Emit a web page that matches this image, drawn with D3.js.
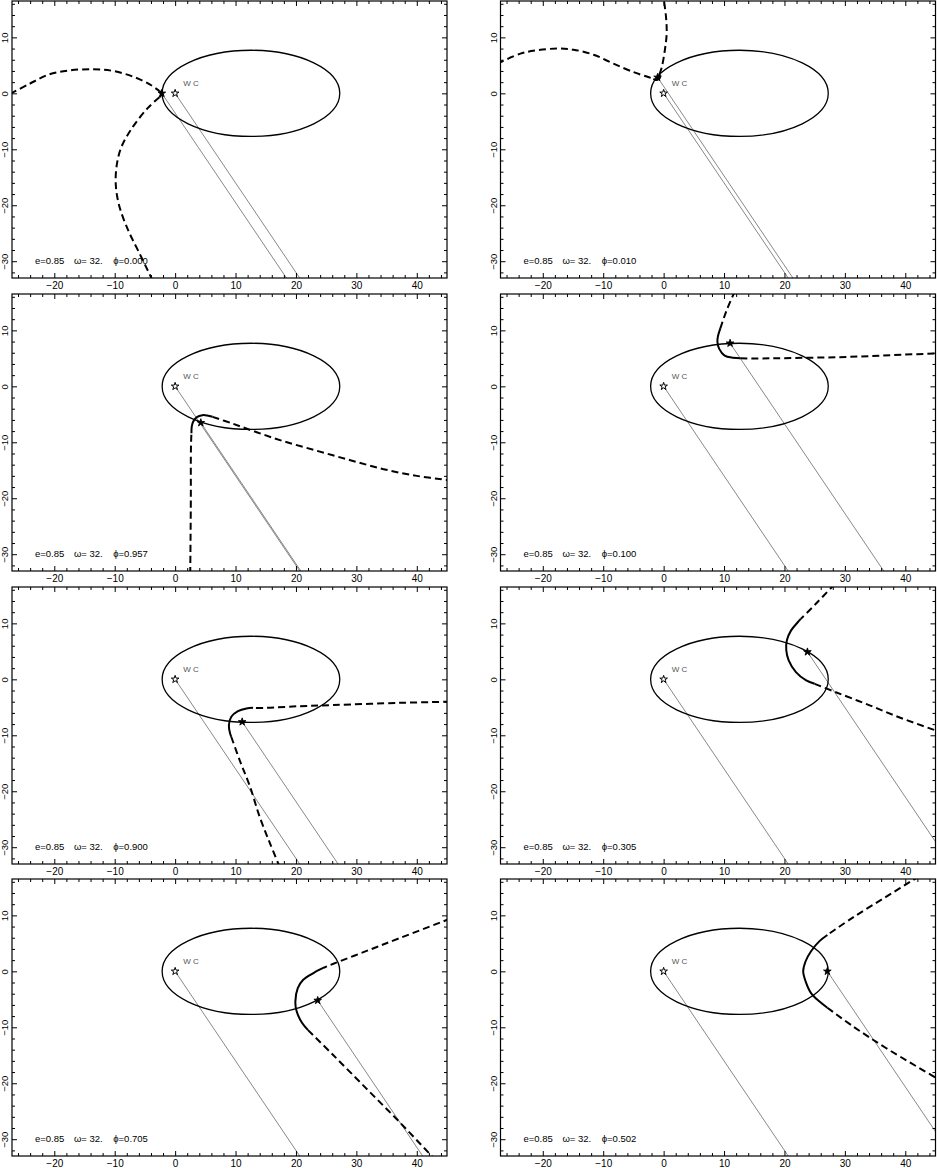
<!DOCTYPE html>
<html><head><meta charset="utf-8">
<script src="https://cdn.jsdelivr.net/npm/d3@7"></script>
<style>
body{margin:0;background:#fff}
svg{display:block}
text{font-family:"Liberation Sans",Arial,Helvetica,sans-serif}
</style></head>
<body><svg id="c" width="937" height="1168"></svg>
<script>
// ---- data ----
const xMajorTicks = [-20,-10,0,10,20,30,40];
const yMajorTicks = [-30,-20,-10,0,10];
const xDomain = [-27,45];
const yDomain = [-33,16.5];
const eccLabel = "0.85";
const omegaLabel = " 32.";
const omegaDeg = 32;
const phases = ["0.000","0.010","0.957","0.100","0.900","0.305","0.705","0.502"];
const compX = [-2.2,-1.0,4.25,11.0,11.1,23.8,23.6,27.1];
const compY = [0,2.85,-6.5,7.7,-7.6,4.9,-5.2,0];
const orbitCenter = [12.55,0];
const orbitAxes = [14.7,7.7];

// shock-cone branches (dashed), apex (solid), second branch (dashed) per panel
const branchA = [
  [[-27.3,-0.1],[-24.1,1.7],[-20.8,3.4],[-17.5,4.1],[-13.6,4.3],[-10.3,4.0],[-7.0,3.0],[-4.2,1.6],[-2.6,0.4]],
  [[-27.5,5.3],[-23.7,7.1],[-20.9,7.7],[-17.6,8.0],[-14.9,7.8],[-11.6,6.9],[-8.3,5.3],[-5.0,3.8],[-2.8,3.0],[-1.7,2.6]],
  [[2.5,-33.5],[2.6,-20],[2.6,-12.7],[2.65,-9.7],[2.7,-8.4]],
  [[11.8,17],[10.4,13.5],[9.4,10.4]],
  [[45.5,-4.0],[37.2,-4.2],[26.2,-4.6],[20.7,-4.8],[15.1,-5.1],[12.9,-5.1]],
  [[28.3,17],[25.2,13.5],[22.7,10.8]],
  [[45.5,9.4],[37.2,5.95],[31.7,3.65],[26.2,1.35],[24.5,0.6]],
  [[42.3,17],[36.8,13.3],[31.3,9.6],[27.1,6.5]]
];
const apex = [
  [[-2.6,0.4],[-2.3,0.1],[-2.3,-0.3],[-2.6,-0.7]],
  [[-1.7,2.6],[-1.1,2.4],[-0.6,2.8],[-0.7,3.4]],
  [[2.7,-8.4],[2.75,-7.2],[3.0,-6.3],[3.6,-5.5],[4.5,-5.15],[5.3,-5.2],[6.2,-5.45]],
  [[9.4,10.4],[9.0,9.0],[8.9,8.0],[9.2,6.7],[10.1,5.5],[11.5,5.1],[12.7,5.0]],
  [[12.9,-5.1],[11.8,-5.2],[10.4,-5.7],[9.3,-6.7],[8.9,-8.2],[9.1,-9.7],[9.3,-10.3]],
  [[22.7,10.8],[22.2,10.2],[21.1,8.75],[20.4,7.0],[20.3,5.2],[20.7,3.4],[21.9,1.3],[23.6,-0.2],[25.0,-0.8]],
  [[24.5,0.6],[22.9,-0.3],[21.2,-1.5],[20.3,-3.0],[19.9,-5.4],[20.1,-7.1],[21.0,-9.2],[22.0,-10.5]],
  [[27.1,6.5],[25.8,5.4],[24.4,3.6],[23.5,1.8],[23.1,0],[23.5,-1.8],[24.4,-3.9],[25.8,-5.4],[27.1,-6.5]]
];
const branchB = [
  [[-2.6,-0.7],[-4.5,-2.6],[-7.0,-6.0],[-8.9,-9.6],[-9.7,-13.1],[-9.8,-16.7],[-9.2,-20.3],[-7.8,-24.4],[-5.9,-28.6],[-3.7,-33.5]],
  [[-0.7,3.4],[-0.3,4.7],[0.2,7.7],[0.5,10.6],[0.4,13.6],[0.0,17]],
  [[6.2,-5.45],[9.6,-6.7],[13.5,-8.2],[17.9,-9.8],[23.4,-11.5],[29,-13.2],[34.5,-14.8],[40,-16.0],[45.5,-16.8]],
  [[12.7,5.0],[17.5,5.0],[23,5.1],[28.5,5.2],[34,5.4],[39.5,5.65],[45.5,5.9]],
  [[9.3,-10.3],[10.7,-14.5],[12.4,-19.2],[14.0,-24.6],[15.7,-29.3],[17.3,-33.5]],
  [[25.0,-0.8],[28.5,-2.3],[34,-4.6],[39.5,-7.0],[45.5,-9.3]],
  [[22.0,-10.5],[26.2,-15.0],[31.7,-21.0],[37.2,-27.0],[42.9,-33.5]],
  [[27.1,-6.5],[31.3,-9.8],[36.8,-13.7],[45.5,-19.3]]
];

// ---- layout ----
const W = 435, H = 277;
const colLeft = [12, 500.5];
const rowTop = [1, 294, 587, 879];

const svg = d3.select("#c");
svg.append("rect").attr("width",937).attr("height",1168).attr("fill","#fff");

const x = d3.scaleLinear().domain(xDomain).range([0,W]);
const y = d3.scaleLinear().domain(yDomain).range([H,0]);
const line = d3.line().x(d=>x(d[0])).y(d=>y(d[1])).curve(d3.curveCatmullRom.alpha(0.5));

const xMinor = d3.range(-26,46,2).filter(v=>v%10!==0);
const yMinor = d3.range(-32,17,2).filter(v=>v%10!==0);

const om = omegaDeg*Math.PI/180;
const dir = [Math.sin(om), -Math.cos(om)];
const L = 120;

phases.forEach((ph,i)=>{
  const r = Math.floor(i/2), c = i%2;
  const g = svg.append("g").attr("transform",`translate(${colLeft[c]},${rowTop[r]})`);
  const cid = "clip"+i;
  g.append("clipPath").attr("id",cid).append("rect").attr("width",W).attr("height",H);
  const p = g.append("g").attr("clip-path",`url(#${cid})`);

  // line-of-sight lines from both stars
  [[0,0],[compX[i],compY[i]]].forEach(s=>{
    p.append("line")
      .attr("x1",x(s[0])).attr("y1",y(s[1]))
      .attr("x2",x(s[0]+dir[0]*L)).attr("y2",y(s[1]+dir[1]*L))
      .attr("stroke","#555").attr("stroke-width",0.7);
  });

  // orbit
  p.append("ellipse")
    .attr("cx",x(orbitCenter[0])).attr("cy",y(orbitCenter[1]))
    .attr("rx",x(orbitCenter[0]+orbitAxes[0])-x(orbitCenter[0]))
    .attr("ry",y(orbitCenter[1])-y(orbitCenter[1]+orbitAxes[1]))
    .attr("fill","none").attr("stroke","#000").attr("stroke-width",1.3);

  // shock cone
  [branchA[i],branchB[i]].forEach(b=>{
    p.append("path").attr("d",line(b)).attr("fill","none").attr("stroke","#000")
      .attr("stroke-width",2).attr("stroke-dasharray","7,4");
  });
  p.append("path").attr("d",line(apex[i])).attr("fill","none").attr("stroke","#000")
    .attr("stroke-width",2);

  // stars
  const star = d3.symbol().type(d3.symbolStar).size(18);
  p.append("path").attr("d",star()).attr("transform",`translate(${x(0)},${y(0)})`)
    .attr("fill","#fff").attr("stroke","#000").attr("stroke-width",1);
  p.append("path").attr("d",star()).attr("transform",`translate(${x(compX[i])},${y(compY[i])})`)
    .attr("fill","#000").attr("stroke","#000").attr("stroke-width",0.9);

  // WC label
  p.append("text").attr("x",x(1.33)).attr("y",y(1.25)).attr("font-size",8)
    .attr("fill","#555").text("W C");

  // annotation
  const ax = x(-23.2), ay = y(-30.5);
  g.append("text").attr("x",ax).attr("y",ay).attr("font-size",9.5).text("e="+eccLabel);
  g.append("text").attr("x",ax+39).attr("y",ay).attr("font-size",9.5).text("\u03C9="+omegaLabel);
  g.append("text").attr("x",ax+78.3).attr("y",ay).attr("font-size",9.5).text("\u03D5="+ph);

  // axes
  const mk = (axisFn, scale, vals, size, lab)=>{
    const a = axisFn(scale).tickValues(vals).tickSizeInner(-size).tickSizeOuter(0);
    if(!lab) a.tickFormat("");
    return a;
  };
  g.append("g").attr("transform",`translate(0,${H})`)
    .call(mk(d3.axisBottom,x,xMajorTicks,5,true).tickPadding(3.5));
  g.append("g").attr("transform",`translate(0,${H})`).call(mk(d3.axisBottom,x,xMinor,3,false));
  g.append("g").call(mk(d3.axisTop,x,xMajorTicks,5,false));
  g.append("g").call(mk(d3.axisTop,x,xMinor,3,false));
  const lef = g.append("g");
  lef.call(mk(d3.axisLeft,y,yMajorTicks,5,true));
  g.append("g").call(mk(d3.axisLeft,y,yMinor,3,false));
  g.append("g").attr("transform",`translate(${W},0)`).call(mk(d3.axisRight,y,yMajorTicks,5,false));
  g.append("g").attr("transform",`translate(${W},0)`).call(mk(d3.axisRight,y,yMinor,3,false));
  g.selectAll(".domain").remove();
  g.selectAll(".tick line").attr("stroke","#000").attr("stroke-width",1);
  g.selectAll(".tick text").attr("font-size",10).attr("fill","#000")
    .attr("font-family",'"Liberation Sans",Arial,Helvetica,sans-serif');
  lef.selectAll(".tick text").attr("transform","rotate(-90)").attr("x",0).attr("y",-4)
    .attr("dy",0).attr("text-anchor","middle").attr("font-size",9.5);

  g.append("rect").attr("width",W).attr("height",H).attr("fill","none")
    .attr("stroke","#000").attr("stroke-width",1.2);
});
</script></body></html>
